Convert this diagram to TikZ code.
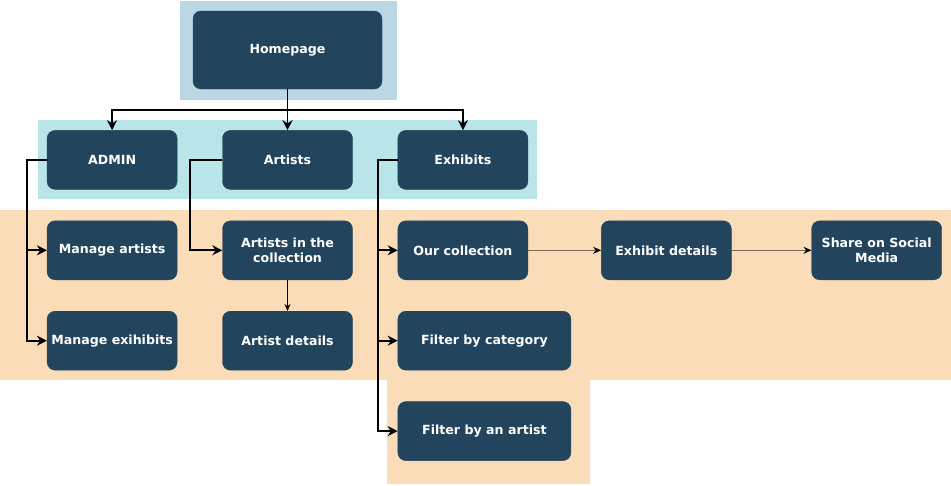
\documentclass[tikz,border=0pt]{standalone}
\usepackage{fontspec}
\setmainfont{DejaVu Sans}
\usepackage{tikz}
\usetikzlibrary{positioning,arrows.meta}

\definecolor{navy}{HTML}{23445D}
\definecolor{bandblue}{HTML}{BAD7E3}
\definecolor{bandcyan}{HTML}{BAE5E8}
\definecolor{bandorange}{HTML}{FADCB8}
\definecolor{linkgray}{HTML}{7A6A58}

\begin{document}
\begin{tikzpicture}[x=1pt, y=1pt, node distance={31pt and 45pt},
  box/.style = {rectangle, rounded corners=8pt, fill=navy, draw=navy, text=white,
    font=\fontsize{12.6}{14.5}\selectfont\bfseries, align=center,
    minimum width=130pt, minimum height=59pt, inner sep=2pt},
  wide/.style = {box, minimum width=173pt},
  conn/.style = {draw=black, line width=1.7pt, -{Stealth[length=10pt,width=10pt]}},
  thin/.style = {draw=black, line width=0.8pt, -{Stealth[length=7pt,width=6pt]}},
  link/.style = {draw=linkgray, line width=1.2pt, -{Stealth[length=8pt,width=7pt,color=black]}}]
\useasboundingbox (0,0) rectangle (951,-485);

% bands
\fill[bandblue] (180,-1) rectangle (397,-100);
\fill[bandcyan] (38,-120) rectangle (537,-199);
\fill[bandorange] (0,-210) rectangle (951,-380);
\fill[bandorange] (387,-380) rectangle (590,-484);

% nodes
\node[box, minimum width=189pt, minimum height=78pt] (home) at (287.5,-50) {Homepage};
\node[box] (artists) [below=41pt of home] {Artists};
\node[box] (admin) [left=of artists] {ADMIN};
\node[box] (exhib) [right=of artists] {Exhibits};

\node[box] (manart) [below=of admin] {Manage artists};
\node[box] (artcoll) [below=of artists] {Artists in the\\collection};
\node[box] (coll) [below=of exhib] {Our collection};
\node[box] (exdet) [right=73pt of coll] {Exhibit details};
\node[box] (share) [right=80pt of exdet] {Share on Social\\Media};

\node[box] (manexh) [below=of manart] {Manage exihibits};
\node[box] (artdet) [below=of artcoll] {Artist details};
\node[wide] (filtcat) [below right=31pt and 0pt of coll.south west] {Filter by category};
\node[wide] (filtart) [below=of filtcat] {Filter by an artist};

% connectors
\draw[conn] (home.south) -- ++(0,-21) -| (admin.north);
\draw[conn] (home.south) -- ++(0,-21) -| (exhib.north);
\draw[conn] (home) -- (artists);

\draw[conn] (admin.west) -- ++(-20,0) |- (manart.west);
\draw[conn] (admin.west) -- ++(-20,0) |- (manexh.west);

\draw[conn] (artists.west) -- ++(-32,0) |- (artcoll.west);
\draw[thin] (artcoll) -- (artdet);

\draw[conn] (exhib.west) -- ++(-20,0) |- (coll.west);
\draw[conn] (exhib.west) -- ++(-20,0) |- (filtcat.west);
\draw[conn] (exhib.west) -- ++(-20,0) |- (filtart.west);

\draw[link] (coll) -- (exdet);
\draw[link] (exdet) -- (share);
\end{tikzpicture}
\end{document}
